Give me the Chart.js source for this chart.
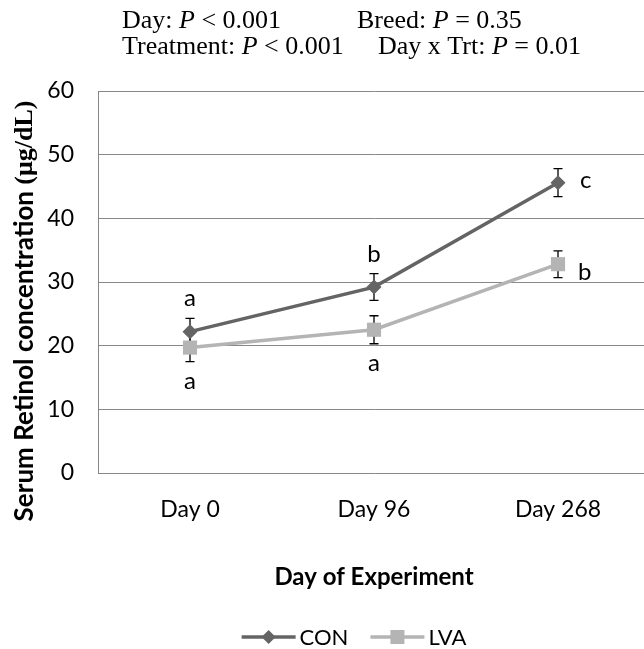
<!DOCTYPE html>
<html><head><meta charset="utf-8">
<script src="https://cdn.jsdelivr.net/npm/chart.js@4"></script>
<style>html,body{margin:0;padding:0;background:#fff;overflow:hidden;width:644px;height:649px}
#wrap{width:660px;height:649px;position:relative}</style>
</head><body><div id="wrap"><canvas id="c" width="660" height="649"></canvas></div>
<script>
const categories = ['Day 0', 'Day 96', 'Day 268'];
const conValues = [22.2, 29.2, 45.6];
const conErrors = [2.1, 2.1, 2.2];
const lvaValues = [19.7, 22.5, 32.8];
const lvaErrors = [2.2, 2.2, 2.1];
const conLetters = ['a', 'b', 'c'];
const conLetterPlace = ['above', 'above', 'right'];
const lvaLetters = ['a', 'a', 'b'];
const lvaLetterPlace = ['below', 'below', 'rightLow'];
const yMin = 0, yMax = 60, yStep = 10;
const seriesNames = ['CON', 'LVA'];
const xTitle = 'Day of Experiment';
const yTitleMain = 'Serum Retinol concentration ';
const yTitleUnit = '(μg/dL)';
const statRow1 = [['Day: ', 'P', ' < 0.001'], ['Breed: ', 'P', ' = 0.35']];
const statRow2 = [['Treatment: ', 'P', ' < 0.001'], ['Day x Trt: ', 'P', ' = 0.01']];

const SANS = 'Lato, "Open Sans", sans-serif';
const SERIF = '"Liberation Serif", "DejaVu Serif", serif';
const CON_COLOR = '#646464';
const LVA_COLOR = '#b4b4b4';

const extras = {
  id: 'extras',
  beforeDatasetsDraw(chart) {
    const ctx = chart.ctx, y = chart.scales.y;
    ctx.save();
    ctx.strokeStyle = '#000';
    ctx.lineWidth = 1.3;
    chart.data.datasets.forEach((ds, di) => {
      const meta = chart.getDatasetMeta(di);
      meta.data.forEach((pt, i) => {
        const v = ds.data[i], e = ds.errors[i];
        const top = y.getPixelForValue(v + e), bot = y.getPixelForValue(v - e);
        ctx.beginPath();
        ctx.moveTo(pt.x, top); ctx.lineTo(pt.x, bot);
        ctx.moveTo(pt.x - 4.5, top); ctx.lineTo(pt.x + 4.5, top);
        ctx.moveTo(pt.x - 4.5, bot); ctx.lineTo(pt.x + 4.5, bot);
        ctx.stroke();
      });
    });
    ctx.restore();
  },
  afterDraw(chart) {
    const ctx = chart.ctx, y = chart.scales.y, ca = chart.chartArea;
    ctx.save();
    // significance letters
    ctx.fillStyle = '#000';
    ctx.font = '24px ' + SANS;
    ctx.textBaseline = 'alphabetic';
    chart.data.datasets.forEach((ds, di) => {
      const meta = chart.getDatasetMeta(di);
      meta.data.forEach((pt, i) => {
        const v = ds.data[i], e = ds.errors[i];
        const top = y.getPixelForValue(v + e), bot = y.getPixelForValue(v - e);
        const place = ds.letterPlace[i], L = ds.letters[i];
        if (place === 'above') { ctx.textAlign = 'center'; ctx.fillText(L, pt.x, top - 12); }
        else if (place === 'below') { ctx.textAlign = 'center'; ctx.fillText(L, pt.x, bot + 27); }
        else if (place === 'right') { ctx.textAlign = 'left'; ctx.fillText(L, pt.x + 22, pt.y + 5); }
        else { ctx.textAlign = 'left'; ctx.fillText(L, pt.x + 20, pt.y + 16); }
      });
    });
    // x title
    ctx.font = 'bold 24px ' + SANS;
    ctx.textAlign = 'center';
    ctx.textBaseline = 'middle';
    ctx.fillText(xTitle, (ca.left + ca.right) / 2, 577);
    // y title
    ctx.save();
    ctx.translate(25, 311);
    ctx.rotate(-Math.PI / 2);
    ctx.textBaseline = 'middle';
    const f1 = 'bold 26px ' + SANS, f2 = 'bold 26px ' + SERIF;
    ctx.font = f1; const w1 = ctx.measureText(yTitleMain).width;
    ctx.font = f2; const w2 = ctx.measureText(yTitleUnit).width;
    let x0 = -(w1 + w2) / 2;
    ctx.textAlign = 'left';
    ctx.font = f1; ctx.fillText(yTitleMain, x0, 0);
    ctx.font = f2; ctx.fillText(yTitleUnit, x0 + w1, 0);
    ctx.restore();
    // stats header
    const drawStat = (parts, x, base) => {
      ctx.textAlign = 'left'; ctx.textBaseline = 'alphabetic';
      parts.forEach((p, k) => {
        ctx.font = (k === 1 ? 'italic ' : '') + '26px ' + SERIF;
        ctx.fillText(p, x, base);
        x += ctx.measureText(p).width;
      });
    };
    drawStat(statRow1[0], 122, 28);
    drawStat(statRow1[1], 357, 28);
    drawStat(statRow2[0], 122, 54);
    drawStat(statRow2[1], 378, 54);
    // legend
    ctx.font = '22px ' + SANS;
    const segW = 54, gap = 4, between = 22;
    const tw = seriesNames.map(n => ctx.measureText(n).width);
    const total = segW * 2 + gap * 2 + tw[0] + tw[1] + between;
    let lx = 354 - total / 2;
    const ly = 637;
    chart.data.datasets.forEach((ds, di) => {
      ctx.strokeStyle = ds.borderColor; ctx.lineWidth = 3.5;
      ctx.beginPath(); ctx.moveTo(lx, ly); ctx.lineTo(lx + segW, ly); ctx.stroke();
      ctx.fillStyle = ds.backgroundColor;
      const cx = lx + segW / 2;
      ctx.beginPath();
      if (di === 0) { ctx.moveTo(cx, ly - 7); ctx.lineTo(cx + 7, ly); ctx.lineTo(cx, ly + 7); ctx.lineTo(cx - 7, ly); }
      else { ctx.rect(cx - 7, ly - 7, 14, 14); }
      ctx.fill();
      ctx.fillStyle = '#000'; ctx.textAlign = 'left'; ctx.textBaseline = 'middle';
      ctx.fillText(seriesNames[di], lx + segW + gap, ly + 1);
      lx += segW + gap + tw[di] + between;
    });
    ctx.restore();
  }
};

new Chart(document.getElementById('c'), {
  type: 'line',
  data: {
    labels: categories,
    datasets: [
      { label: seriesNames[0], data: conValues, errors: conErrors, letters: conLetters, letterPlace: conLetterPlace,
        borderColor: CON_COLOR, backgroundColor: CON_COLOR, borderWidth: 3.5,
        pointStyle: 'rectRot', pointRadius: 7.5, pointHoverRadius: 7.5, pointBorderWidth: 0, tension: 0 },
      { label: seriesNames[1], data: lvaValues, errors: lvaErrors, letters: lvaLetters, letterPlace: lvaLetterPlace,
        borderColor: LVA_COLOR, backgroundColor: LVA_COLOR, borderWidth: 3.5,
        pointStyle: 'rect', pointRadius: 10, pointHoverRadius: 10, pointBorderWidth: 0, tension: 0 }
    ]
  },
  options: {
    responsive: false,
    devicePixelRatio: 1,
    animation: false,
    events: [],
    layout: { padding: { left: 0, right: 6, top: 91, bottom: 0 } },
    plugins: { legend: { display: false }, tooltip: { enabled: false } },
    scales: {
      x: {
        offset: true,
        grid: { display: false, drawTicks: false },
        border: { display: false },
        ticks: { color: '#000', font: { family: SANS, size: 23 }, padding: 23, maxRotation: 0 },
        afterFit(s) { s.height = 649 - 473; }
      },
      y: {
        min: yMin, max: yMax,
        grid: { color: '#878787', lineWidth: 1, drawTicks: false },
        border: { display: true, color: '#878787', width: 1 },
        ticks: { stepSize: yStep, color: '#000', font: { family: SANS, size: 23 }, padding: 24 },
        afterFit(s) { s.width = 98; }
      }
    }
  },
  plugins: [extras]
});
</script></body></html>
